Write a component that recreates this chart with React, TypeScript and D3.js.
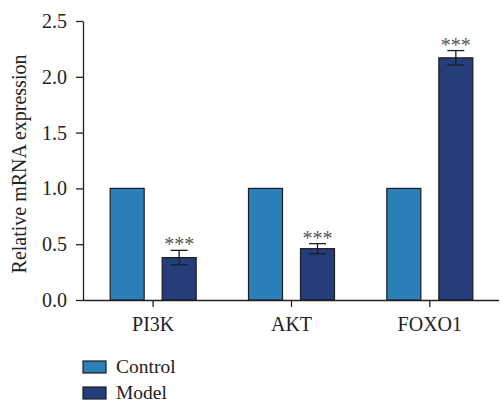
import React, { useEffect, useRef } from "react";
import * as d3 from "d3";

const categories = ["PI3K", "AKT", "FOXO1"];
const seriesNames = ["Control", "Model"];
const controlValues = [1.0, 1.0, 1.0];
const modelValues = [0.38, 0.46, 2.17];
const modelErrors = [0.065, 0.045, 0.065];
const modelStars = ["***", "***", "***"];
const yTicks = [0, 0.5, 1.0, 1.5, 2.0, 2.5];
const colors = ["#2b80ba", "#253d7a"];

const App = () => {
  const ref = useRef<SVGSVGElement>(null);

  useEffect(() => {
    const svg = d3.select(ref.current);
    svg.selectAll("*").remove();
    const font = "'Liberation Serif', 'Times New Roman', serif";

    const margin = { left: 83, top: 21, bottom: 300 };
    const x = d3.scaleBand().domain(categories).range([84, 499]).padding(0);
    const x1 = d3.scaleBand().domain(seriesNames).range([-43, 43]).paddingInner(18 / 52).paddingOuter(0);
    const y = d3.scaleLinear().domain([0, 2.5]).range([margin.bottom, margin.top]);

    // y axis
    const yAxis = svg
      .append("g")
      .attr("transform", `translate(${margin.left},0)`)
      .call(d3.axisLeft(y).tickValues(yTicks).tickFormat(d3.format(".1f")).tickSize(7).tickSizeOuter(0).tickPadding(9));
    yAxis.select(".domain").attr("stroke", "#222").attr("stroke-width", 1.3);
    yAxis.selectAll(".tick line").attr("stroke", "#222").attr("stroke-width", 1.3);
    yAxis.selectAll("text").attr("font-family", font).attr("font-size", 20).attr("fill", "#222");

    // x axis
    const xAxis = svg
      .append("g")
      .attr("transform", `translate(0,${margin.bottom})`)
      .call(d3.axisBottom(x).tickSize(7).tickSizeOuter(0).tickPadding(10));
    xAxis.select(".domain").attr("stroke", "#222").attr("stroke-width", 1.3).attr("d", `M${margin.left},0.5H499`);
    xAxis.selectAll(".tick line").attr("stroke", "#222").attr("stroke-width", 1.3);
    xAxis.selectAll("text").attr("font-family", font).attr("font-size", 20).attr("fill", "#222");

    // y label
    svg
      .append("text")
      .attr("transform", `translate(26,164) rotate(-90)`)
      .attr("text-anchor", "middle")
      .attr("font-family", font)
      .attr("font-size", 20)
      .attr("fill", "#222")
      .text("Relative mRNA expression");

    const series = [controlValues, modelValues];
    series.forEach((vals, si) => {
      svg
        .append("g")
        .selectAll("rect")
        .data(vals)
        .enter()
        .append("rect")
        .attr("x", (d, i) => x(categories[i])! + x.bandwidth() / 2 + x1(seriesNames[si])!)
        .attr("y", (d) => y(d))
        .attr("width", x1.bandwidth())
        .attr("height", (d) => y(0) - y(d))
        .attr("fill", colors[si])
        .attr("stroke", "#1c1c1c")
        .attr("stroke-width", 1.2);
    });

    // error bars and stars on model
    const eg = svg.append("g").attr("stroke", "#1c1c1c").attr("stroke-width", 1.3);
    modelValues.forEach((v, i) => {
      const cx = x(categories[i])! + x.bandwidth() / 2 + x1("Model")! + x1.bandwidth() / 2;
      const top = y(v + modelErrors[i]);
      const bot = y(v - modelErrors[i]);
      eg.append("line").attr("x1", cx).attr("x2", cx).attr("y1", top).attr("y2", bot);
      eg.append("line").attr("x1", cx - 8.5).attr("x2", cx + 8.5).attr("y1", top).attr("y2", top);
      eg.append("line").attr("x1", cx - 8.5).attr("x2", cx + 8.5).attr("y1", bot).attr("y2", bot);
      svg
        .append("text")
        .attr("x", cx)
        .attr("y", top + 1)
        .attr("text-anchor", "middle")
        .attr("font-family", font)
        .attr("font-size", 20)
        .attr("fill", "#555")
        .text(modelStars[i]);
    });

    // legend
    const legend = svg.append("g");
    seriesNames.forEach((name, i) => {
      const ly = 361 + i * 26;
      legend
        .append("rect")
        .attr("x", 83)
        .attr("y", ly)
        .attr("width", 23)
        .attr("height", 12)
        .attr("fill", colors[i])
        .attr("stroke", "#1c1c1c")
        .attr("stroke-width", 1.2);
      legend
        .append("text")
        .attr("x", 116)
        .attr("y", ly + 12)
        .attr("font-family", font)
        .attr("font-size", 19.5)
        .attr("fill", "#222")
        .text(name);
    });
  }, []);

  return <svg ref={ref} width={500} height={402} style={{ position: "absolute", left: 0, top: 0, background: "#fff" }} />;
};

export default App;
